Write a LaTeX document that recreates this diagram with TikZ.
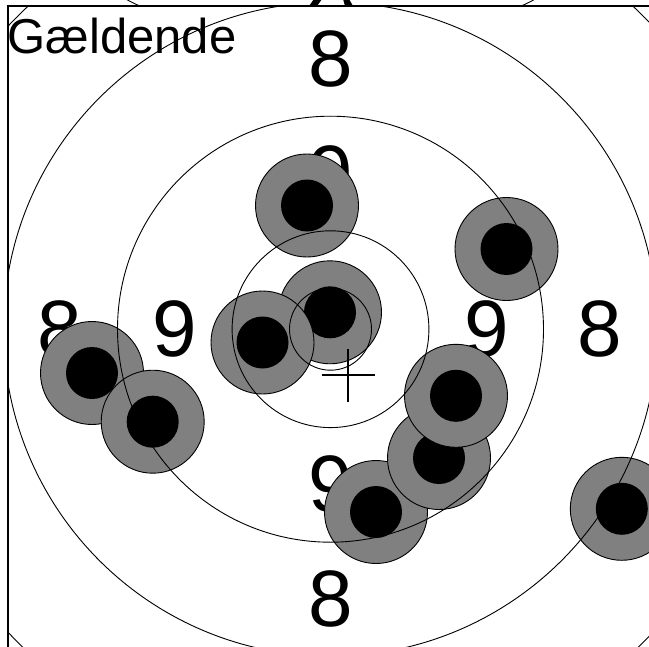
\documentclass[tikz,border=0pt]{standalone}
\usepackage{fontspec}
\setmainfont{Liberation Sans}
\definecolor{shotgray}{HTML}{808080}
\begin{document}
\begin{tikzpicture}[x=1bp,y=-1bp,
  ring/.style={draw=black,line width=0.9bp},
  shot/.style={circle,draw=black,fill=shotgray,line width=0.9bp,minimum size=103bp,inner sep=0pt,
    path picture={\fill[black] (path picture bounding box.center) circle (26bp);}},
  ringlabel/.style={font=\fontsize{80bp}{80bp}\selectfont,inner sep=0pt,anchor=center},
  titlelabel/.style={font=\fontsize{49bp}{49bp}\selectfont,inner sep=0pt,anchor=base west},
  frame/.style={draw=black,line width=1.7bp},
  crossline/.style={draw=black,line width=2bp}]
\useasboundingbox (0,0) rectangle (649,647);
\coordinate (c) at (330.5,329.2);
\coordinate (cup) at (330.5,-393.3);
% upper panel remains
\begin{scope}
  \clip (0,0) rectangle (649,6);
  \draw[ring] (cup) circle (442.5);
  \fill[black] (309,6) -- (317,6) -- (322,-1) -- (314,-1) -- cycle;
  \fill[black] (343,-1) -- (349,-1) -- (353,6) -- (345,6) -- cycle;
\end{scope}
% main panel
\begin{scope}
  \clip (7.7,6) rectangle (649,647);
  \node[titlelabel] (title) at (7.5,54) {Gældende};
  \node[ringlabel] (l8t) at (330.5,59) {8};
  \node[ringlabel] (l8b) at (330.5,599) {8};
  \node[ringlabel] (l8l) at (60,329) {8};
  \node[ringlabel] (l8r) at (600,329) {8};
  \node[ringlabel] (l9t) at (330.5,174) {9};
  \node[ringlabel] (l9b) at (330.5,484) {9};
  \node[ringlabel] (l9l) at (175,329) {9};
  \node[ringlabel] (l9r) at (487,329) {9};
  \node[shot] (s1) at (307,205.5) {};
  \node[shot] (s2) at (506.5,249) {};
  \node[shot] (s5) at (92,373) {};
  \node[shot] (s6) at (152.7,421.7) {};
  \node[shot] (s3) at (330,312.3) {};
  \node[shot] (s4) at (262.5,342.5) {};
  \node[shot] (s9) at (376,512) {};
  \node[shot] (s8) at (439,458) {};
  \node[shot] (s7) at (456,395.8) {};
  \node[shot] (s10) at (621.8,508.8) {};
  \draw[ring] (c) circle (41);
  \draw[ring] (c) circle (98.4);
  \draw[ring] (c) circle (213);
  \draw[ring] (c) circle (327);
  \draw[ring] (c) circle (442.5);
  \coordinate (mpi) at (348.3,375.3);
  \draw[crossline] ([xshift=-26.5bp]mpi) -- ([xshift=26.5bp]mpi);
  \draw[crossline] ([yshift=-26.5bp]mpi) -- ([yshift=26.5bp]mpi);
\end{scope}
\draw[frame] (7.7,647) -- (7.7,6) -- (649,6);
\end{tikzpicture}
\end{document}
